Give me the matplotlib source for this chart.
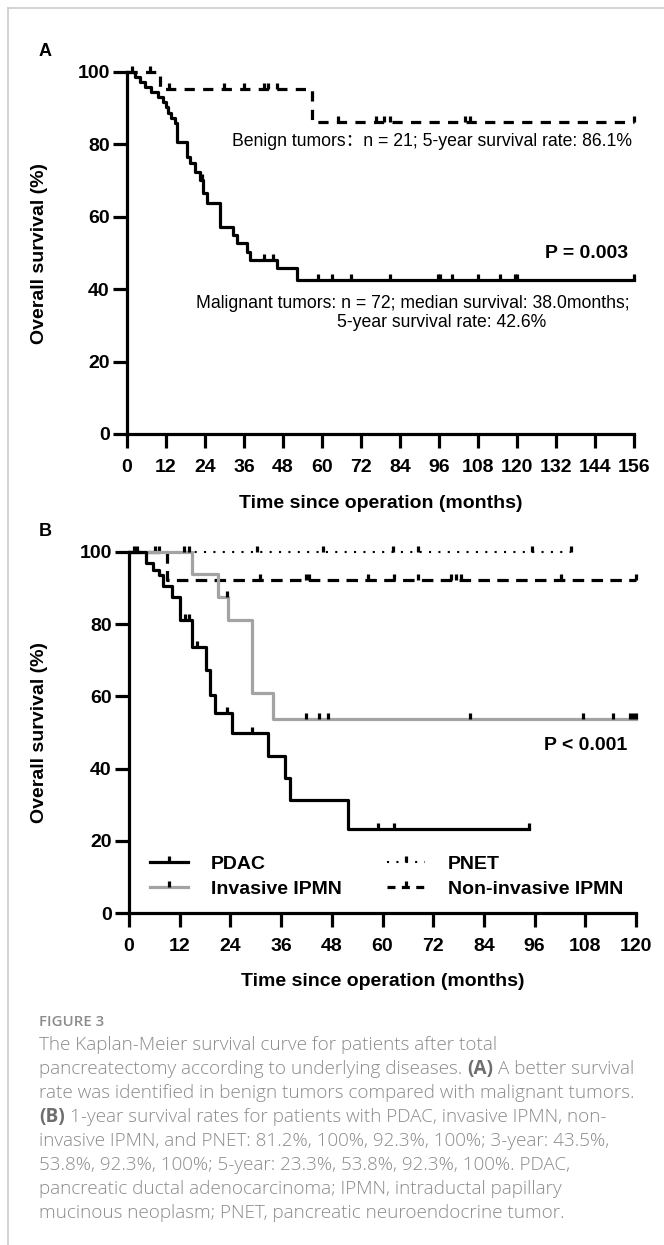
import numpy as np
import matplotlib.pyplot as plt
from matplotlib.path import Path
from matplotlib.lines import Line2D

plt.rcParams['font.family'] = ['Liberation Sans', 'DejaVu Sans']

W, H = 664, 1245

# ---- panel A: benign vs malignant (months, % surviving after each drop)
benign_t = [10, 57]
benign_s = [95.2, 86.1]
benign_end = 156
benign_cens = [7, 13, 30, 36, 42, 43.5, 46, 65, 76.5, 79, 81, 104, 105.5, 156]

mal_t = [2.5, 4, 5.5, 7.5, 9.5, 11, 12, 12.5, 13.5, 14.8, 15.3, 18.6, 19.4, 21,
         22.5, 23.5, 24.5, 28.6, 32.6, 33.8, 37, 37.8, 46, 52.3]
mal_s = [98.6, 97.2, 95.8, 94.4, 93.0, 91.6, 90.2, 88.8, 87.4, 86.0, 80.8, 76.6, 74.8, 72.5,
         70.2, 66.5, 63.8, 57.2, 55.0, 52.8, 50.3, 48.0, 45.9, 42.6]
mal_end = 156
mal_cens = [1.4, 23, 42, 45, 58.8, 63, 69, 81, 95.7, 96.3, 100, 108, 114.8, 119.4, 120, 156]

# ---- panel B: by disease
pdac_t = [4.0, 5.7, 7.1, 8.1, 10.1, 12.0, 14.8, 18.3, 19.1, 20.3, 24.3, 32.9, 36.9, 38.0, 51.8]
pdac_s = [97.0, 95.0, 93.5, 90.5, 87.5, 81.2, 73.8, 67.3, 60.4, 55.3, 49.8, 43.5, 37.3, 31.3, 23.3]
pdac_end = 94.7
pdac_cens = [13.2, 14.1, 16, 23.1, 29, 58.9, 62.8, 94.7]

inv_t = [14.8, 21.1, 23.5, 29.2, 34.1]
inv_s = [93.8, 87.5, 81.2, 60.9, 53.8]
inv_end = 120
inv_cens = [12.9, 14.1, 23.1, 42, 45, 47.1, 80.8, 107.5, 114.6, 118.5, 119.3, 120]

pnet_t = []
pnet_s = []
pnet_end = 104.6
pnet_cens = [1.2, 2.0, 30.2, 45.9, 62.5, 68.3, 95.5, 104.6]

nonin_t = [8.9]
nonin_s = [92.3]
nonin_end = 120
nonin_cens = [6.2, 7.2, 30.9, 42, 42.5, 56.5, 62.8, 68.3, 76.2, 77.4, 78.6, 102.2, 120]

caption = [
    [("The Kaplan-Meier survival curve for patients after total", False)],
    [("pancreatectomy according to underlying diseases.", False), ("(A)", True),
     ("A better survival", False)],
    [("rate was identified in benign tumors compared with malignant tumors.", False)],
    [("(B)", True), ("1-year survival rates for patients with PDAC, invasive IPMN, non-", False)],
    [("invasive IPMN, and PNET: 81.2%, 100%, 92.3%, 100%; 3-year: 43.5%,", False)],
    [("53.8%, 92.3%, 100%; 5-year: 23.3%, 53.8%, 92.3%, 100%. PDAC,", False)],
    [("pancreatic ductal adenocarcinoma; IPMN, intraductal papillary", False)],
    [("mucinous neoplasm; PNET, pancreatic neuroendocrine tumor.", False)],
]

tick_up = Path([(0, 0), (0, 1)])
LW = 2.3


def fx(x):
    return x / W


def fy(y):
    return 1 - y / H


def km(ax, t, s, end, cens, **kw):
    x = np.r_[0, t, end]
    y = np.r_[100, s, s[-1] if len(s) else 100]
    ax.step(x, y, where='post', clip_on=False, **kw)
    c = np.asarray(cens)
    cy = y[np.searchsorted(x, c, side='right') - 1]
    ax.plot(c, cy, ls='none', marker=tick_up, ms=8, mew=LW, color='black', clip_on=False)


def style(ax, xmax):
    ax.set_xlim(0, xmax)
    ax.set_ylim(0, 100)
    ax.set_xticks(np.arange(0, xmax + 1, 12))
    ax.set_yticks(range(0, 101, 20))
    ax.spines[['top', 'right']].set_visible(False)
    ax.spines[['left', 'bottom']].set_linewidth(LW)
    ax.tick_params(length=10, width=LW, labelsize=14)
    ax.tick_params(axis='x', pad=8)
    ax.tick_params(axis='y', pad=2.5)
    for lab in ax.get_xticklabels() + ax.get_yticklabels():
        lab.set_fontweight('bold')


fig = plt.figure(figsize=(W / 100, H / 100), dpi=100)

# frame of the page
fig.add_artist(Line2D([fx(8), fx(8)], [0, fy(8)], color='#cccccc', lw=1.2))
fig.add_artist(Line2D([fx(8), 1], [fy(8), fy(8)], color='#cccccc', lw=1.2))

note = dict(fontsize=12.7)

# ---- panel A
axA = fig.add_axes([fx(127), fy(434), (634 - 127) / W, (434 - 72) / H])
km(axA, benign_t, benign_s, benign_end, benign_cens, color='black', lw=LW, dashes=(3.2, 2.6))
km(axA, mal_t, mal_s, mal_end, mal_cens, color='black', lw=LW)
style(axA, 156)

fig.text(fx(45), fy(52), 'A', fontsize=13, weight='bold', ha='center', va='center')
fig.text(fx(40), fy(253), 'Overall survival (%)', fontsize=14, weight='bold',
         rotation=90, ha='center', va='center')
fig.text(fx(380.5), fy(503), 'Time since operation (months)', fontsize=14, weight='bold',
         ha='center', va='center')
fig.text(fx(632), fy(141), 'Benign tumors\uff1an = 21; 5-year survival rate: 86.1%',
         ha='right', va='center', family=['Liberation Sans', 'Noto Sans CJK SC'], **note)
fig.text(fx(628), fy(254), 'P = 0.003', fontsize=14, weight='bold', ha='right', va='center')
fig.text(fx(630), fy(303), 'Malignant tumors: n = 72; median survival: 38.0months;',
         ha='right', va='center', **note)
fig.text(fx(337), fy(323), '5-year survival rate: 42.6%', ha='left', va='center', **note)

# ---- panel B
axB = fig.add_axes([fx(129), fy(913), (636 - 129) / W, (913 - 552) / H])
km(axB, pnet_t, pnet_s, pnet_end, pnet_cens, color='black', lw=1.5, dashes=(1, 3.5))
km(axB, nonin_t, nonin_s, nonin_end, nonin_cens, color='black', lw=LW, dashes=(3.6, 2.3))
km(axB, inv_t, inv_s, inv_end, inv_cens, color='#a3a3a3', lw=LW)
km(axB, pdac_t, pdac_s, pdac_end, pdac_cens, color='black', lw=LW)
style(axB, 120)

fig.text(fx(45), fy(532), 'B', fontsize=13, weight='bold', ha='center', va='center')
fig.text(fx(40), fy(732), 'Overall survival (%)', fontsize=14, weight='bold',
         rotation=90, ha='center', va='center')
fig.text(fx(382.5), fy(982), 'Time since operation (months)', fontsize=14, weight='bold',
         ha='center', va='center')
fig.text(fx(627), fy(745), 'P < 0.001', fontsize=14, weight='bold', ha='right', va='center')

handles = [
    Line2D([], [], color='black', lw=LW, marker=tick_up, ms=8, mew=LW, mec='black'),
    Line2D([], [], color='#a3a3a3', lw=LW, marker=tick_up, ms=8, mew=LW, mec='black'),
    Line2D([], [], color='black', lw=1.5, dashes=(1, 3.5), marker=tick_up, ms=8, mew=LW, mec='black'),
    Line2D([], [], color='black', lw=LW, dashes=(2.5, 2.0), marker=tick_up, ms=8, mew=LW, mec='black'),
]
labels = ['PDAC', 'Invasive IPMN', 'PNET', 'Non-invasive IPMN']
fig.legend(handles, labels, ncol=2, loc='center left', bbox_to_anchor=(fx(150), fy(876.5)),
           frameon=False, borderpad=0, borderaxespad=0, handlelength=1.95, handletextpad=1.2,
           columnspacing=2.3, labelspacing=0.4, prop={'weight': 'bold', 'size': 14})

# ---- caption
cap_font = dict(family='Open Sans', fontsize=13.6)
fig.text(fx(39), fy(1026), 'FIGURE 3', color='#8c8c8c', weight='semibold',
         va='baseline', family='Open Sans', fontsize=10.8)
r = fig.canvas.get_renderer()
gap = (fig.text(0, 0, 'a a', weight='light', **cap_font).get_window_extent(r).width
       - fig.text(0, 0, 'aa', weight='light', **cap_font).get_window_extent(r).width)
for t in fig.texts[-2:]:
    t.remove()
for i, parts in enumerate(caption):
    x = 39
    y = 1050 + 24 * i
    for txt, bold in parts:
        t = fig.text(fx(x), fy(y), txt, va='baseline', color='#6e6e6e' if bold else '#8a8a8a',
                     weight='bold' if bold else 'light', **cap_font)
        x += t.get_window_extent(r).width + gap

fig.savefig('out.png', dpi=100)
